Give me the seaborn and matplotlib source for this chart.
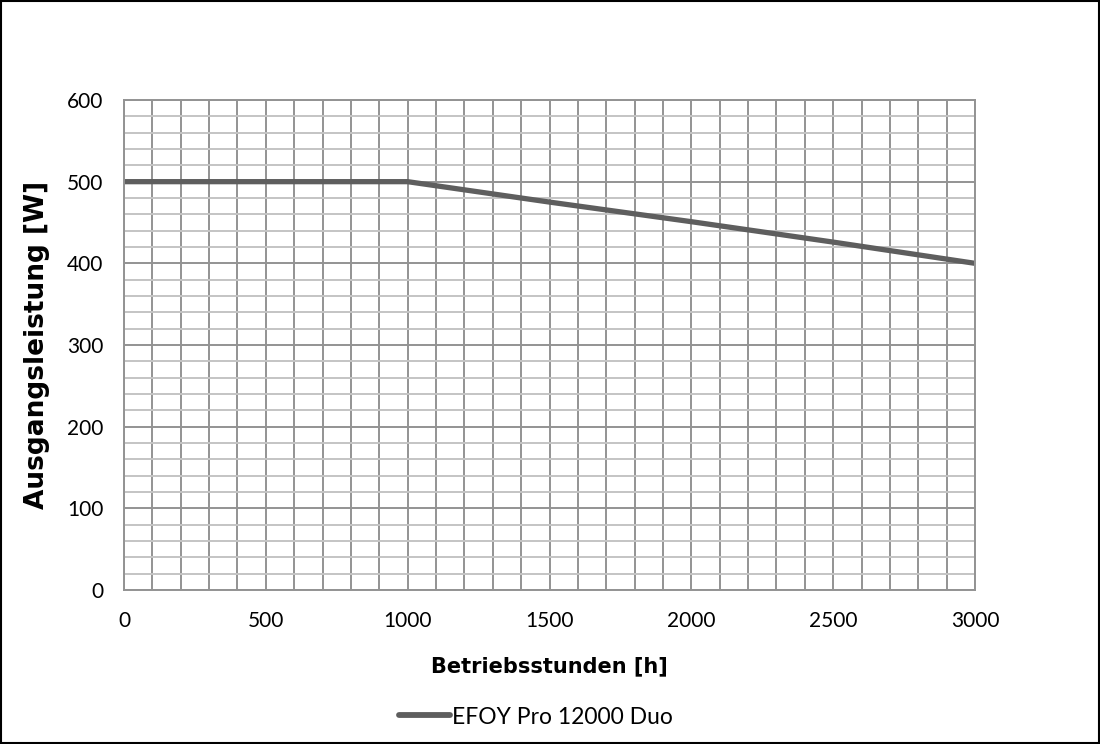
import numpy as np
import pandas as pd
import matplotlib
matplotlib.use("Agg")
import matplotlib.pyplot as plt
from matplotlib.ticker import MultipleLocator
import seaborn as sns

# data
hours = [0, 500, 1000, 1500, 2000, 2500, 3000]
power = [500, 500, 500, 475, 451, 426, 400]
series_name = "EFOY Pro 12000 Duo"

x_ticks = [0, 500, 1000, 1500, 2000, 2500, 3000]
y_ticks = [0, 100, 200, 300, 400, 500, 600]

df = pd.DataFrame({"Betriebsstunden": hours, "Leistung": power, "serie": series_name})

sns.set_style("white")
plt.rcParams['font.family'] = ['Lato', 'DejaVu Sans']
plt.rcParams['text.color'] = 'black'
plt.rcParams['axes.labelcolor'] = 'black'
plt.rcParams['xtick.color'] = 'black'
plt.rcParams['ytick.color'] = 'black'

fig = plt.figure(figsize=(11, 7.44), dpi=100)
ax = fig.add_axes([124 / 1100, 1 - 590 / 744, 851 / 1100, 490 / 744])

# grid
ax.xaxis.set_major_locator(MultipleLocator(100))
ax.yaxis.set_major_locator(MultipleLocator(100))
ax.yaxis.set_minor_locator(MultipleLocator(20))
ax.grid(which="minor", axis="y", color="#c4c4c4", lw=1.4)
ax.grid(which="major", axis="both", color="#939393", lw=1.4)
ax.set_axisbelow(True)

sns.lineplot(data=df, x="Betriebsstunden", y="Leistung", hue="serie",
             palette=["#5e5e5e"], lw=3.8, ax=ax)

ax.set_xlim(0, 3000)
ax.set_ylim(0, 600)
ax.set_xticks(np.arange(0, 3001, 100))
ax.set_xticklabels([str(v) if v in x_ticks else "" for v in range(0, 3001, 100)])
ax.set_yticks(y_ticks)
ax.tick_params(axis="both", which="major", length=8, width=1.4, color="#939393",
               labelcolor="black", labelsize=15, pad=7)
ax.tick_params(axis="y", which="minor", length=0)
for s in ax.spines.values():
    s.set_color("#939393")
    s.set_linewidth(1.4)

lab_font = dict(family="DejaVu Sans", fontweight="bold", color="black")
ax.set_xlabel("Betriebsstunden [h]", fontsize=15, labelpad=18, **lab_font)
ax.set_ylabel("Ausgangsleistung [W]", fontsize=19, labelpad=12, **lab_font)

leg = ax.legend(loc="center", bbox_to_anchor=(536 / 1100, (744 - 717) / 744),
                bbox_transform=fig.transFigure, frameon=False, fontsize=16.5,
                handlelength=2.2, handletextpad=0.1)
for h in leg.get_lines():
    h.set_linewidth(4.2)

# outer frame of the chart
fig.patches.append(plt.Rectangle((0.001, 0.001), 0.998, 0.998, transform=fig.transFigure,
                                 fill=False, edgecolor="black", lw=1.5))

fig.savefig("out.png", dpi=100)
